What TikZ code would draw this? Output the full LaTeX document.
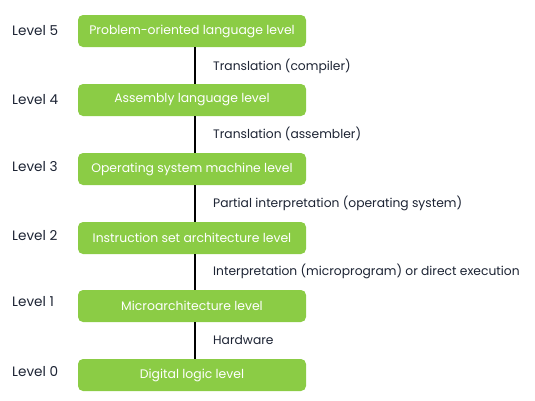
\documentclass[tikz,border=0pt]{standalone}
\usepackage{fontspec}
\setmainfont{Poppins}
\definecolor{lvgreen}{HTML}{8BCC45}
\definecolor{txtdark}{HTML}{1C2333}
\begin{document}
\begin{tikzpicture}[x=1pt,y=-1pt,
  lvbox/.style={fill=lvgreen,rounded corners=5pt,minimum width=228pt,minimum height=32pt,text=white,font=\fontsize{12.4}{14}\selectfont,inner sep=0pt},
  lvlabel/.style={text=txtdark,font=\fontsize{13.6}{15}\selectfont,anchor=west,inner sep=0pt},
  edlabel/.style={text=txtdark,font=\fontsize{12.3}{14}\selectfont,anchor=west,inner sep=0pt},
  conn/.style={draw=black,line width=1.2pt}]
\useasboundingbox (0,0) rectangle (535,400);
\node[lvbox] (b5) at (192,31) {Problem-oriented language level};
\node[lvbox] (b4) at (192,100) {Assembly language level};
\node[lvbox] (b3) at (192,169) {Operating system machine level};
\node[lvbox] (b2) at (192,238) {Instruction set architecture level};
\node[lvbox] (b1) at (192,306) {Microarchitecture level};
\node[lvbox] (b0) at (192,375) {Digital logic level};
\node[lvlabel] (l5) at (12,31) {Level 5};
\node[lvlabel] (l4) at (12,100) {Level 4};
\node[lvlabel] (l3) at (12,167) {Level 3};
\node[lvlabel] (l2) at (12,236) {Level 2};
\node[lvlabel] (l1) at (12,302) {Level 1};
\node[lvlabel] (l0) at (12,372) {Level 0};
\draw[conn] ([xshift=3pt]b5.south) -- ([xshift=3pt]b4.north);
\draw[conn] ([xshift=3pt]b4.south) -- ([xshift=3pt]b3.north);
\draw[conn] ([xshift=3pt]b3.south) -- ([xshift=3pt]b2.north);
\draw[conn] ([xshift=3pt]b2.south) -- ([xshift=3pt]b1.north);
\draw[conn] ([xshift=3pt]b1.south) -- ([xshift=3pt]b0.north);
\node[edlabel] (e5) at (213,66) {Translation (compiler)};
\node[edlabel] (e4) at (213,134) {Translation (assembler)};
\node[edlabel] (e3) at (213,203) {Partial interpretation (operating system)};
\node[edlabel] (e2) at (213,271) {Interpretation (microprogram) or direct execution};
\node[edlabel] (e1) at (213,340) {Hardware};
\end{tikzpicture}
\end{document}
